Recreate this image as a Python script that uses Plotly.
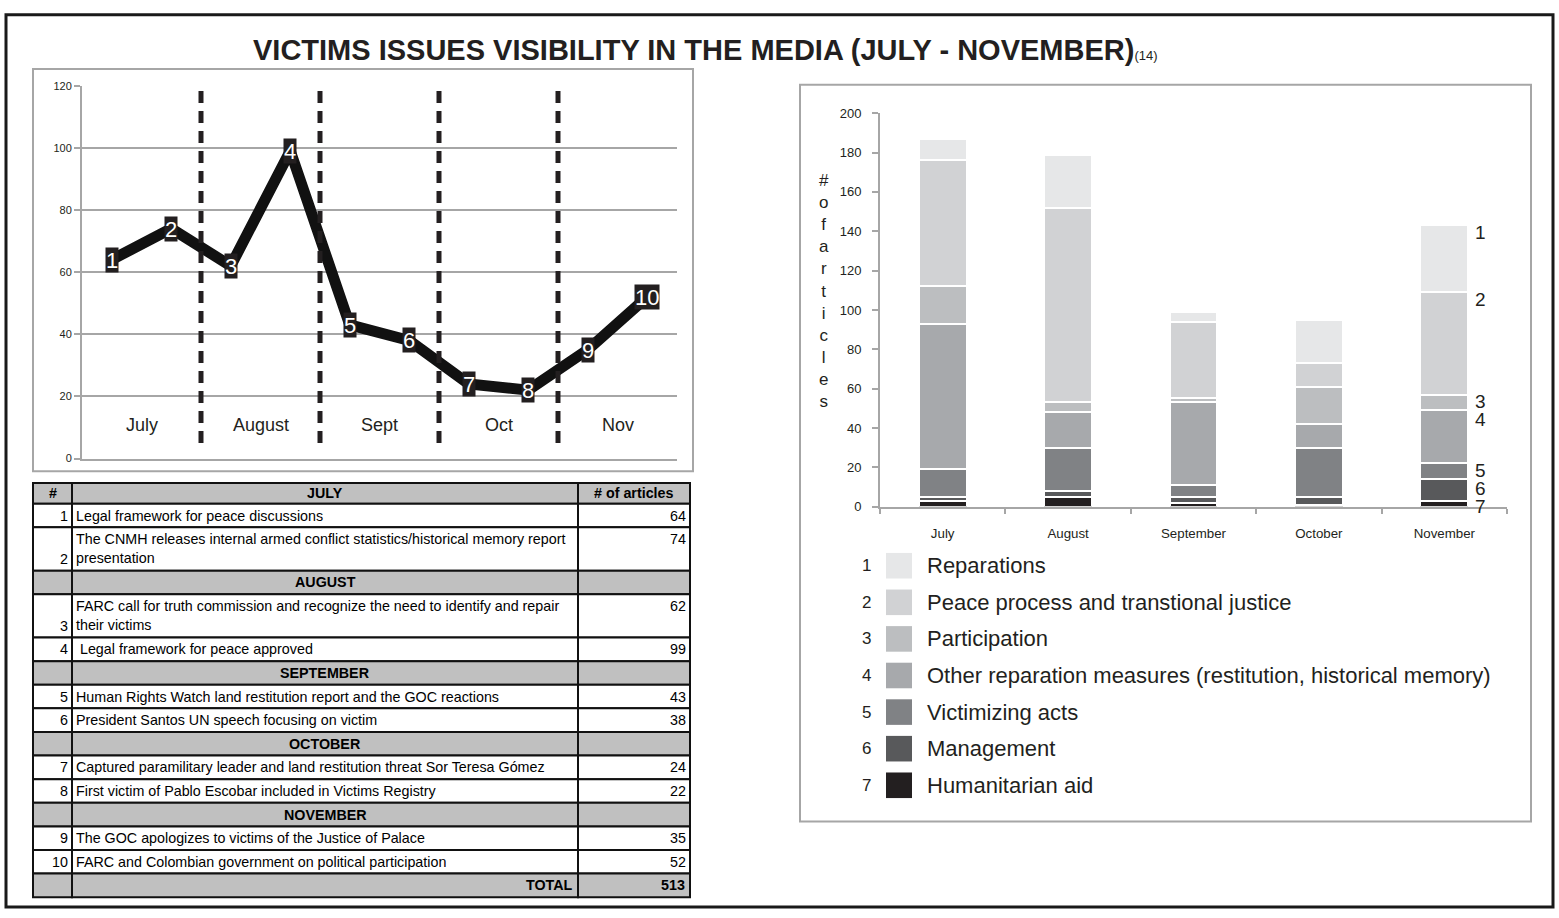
import plotly.graph_objects as go

W, H = 1559, 918
FONT = "Liberation Sans, Arial, sans-serif"
DARK = "#231f20"
GRID = "#a6a6a6"

# ---------------- data ----------------
event_ids = list(range(1, 11))
event_articles = [64, 74, 62, 99, 43, 38, 24, 22, 35, 52]
event_month = [0, 0, 1, 1, 2, 2, 3, 3, 4, 4]
event_desc = [
    "Legal framework for peace discussions",
    "The CNMH releases internal armed conflict statistics/historical memory report<br>presentation",
    "FARC call for truth commission and recognize the need to identify and repair<br>their victims",
    " Legal framework for peace approved",
    "Human Rights Watch land restitution report and the GOC reactions",
    "President Santos UN speech focusing on victim",
    "Captured paramilitary leader and land restitution threat Sor Teresa Gómez",
    "First victim of Pablo Escobar included in Victims Registry",
    "The GOC apologizes to victims of the Justice of Palace",
    "FARC and Colombian government on political participation",
]
table_months = ["JULY", "AUGUST", "SEPTEMBER", "OCTOBER", "NOVEMBER"]
line_months = ["July", "August", "Sept", "Oct", "Nov"]

bar_months = ["July", "August", "September", "October", "November"]
categories = [
    "Reparations",
    "Peace process and transtional justice",
    "Participation",
    "Other reparation measures (restitution, historical memory)",
    "Victimizing acts",
    "Management",
    "Humanitarian aid",
]
reparations = [11, 27, 5, 22, 34]
peace_process = [64, 99, 39, 12, 52]
participation = [19, 5, 2, 19, 8]
other_reparation = [74, 18, 42, 12, 27]
victimizing = [14, 22, 6, 25, 8]
management = [2, 3, 3, 4, 11]
humanitarian = [3, 5, 2, 1, 3]
series = [reparations, peace_process, participation, other_reparation,
          victimizing, management, humanitarian]
colors = ["#e6e7e8", "#d1d2d4", "#bcbec0", "#a7a9ac", "#808285", "#58595b", "#231f20"]


def px(x):
    return x / W


def py(y):
    return 1 - y / H


def ann(**kw):
    d = dict(showarrow=False, xanchor="center", yanchor="middle")
    d.update(kw)
    return d


fig = go.Figure()
annotations = []
shapes = []

# ---------------- frames ----------------
shapes.append(dict(type="rect", xref="paper", yref="paper", x0=px(6), x1=px(1553),
                   y0=py(915), y1=py(8), line=dict(color="#1a1a1a", width=3), layer="below"))
shapes.append(dict(type="rect", xref="paper", yref="paper", x0=px(33), x1=px(693),
                   y0=py(472), y1=py(63), line=dict(color=GRID, width=2), layer="below"))
shapes.append(dict(type="rect", xref="paper", yref="paper", x0=px(800), x1=px(1531),
                   y0=py(828), y1=py(79), line=dict(color=GRID, width=2), layer="below"))

# ---------------- line chart ----------------
fig.add_trace(go.Scatter(
    x=event_ids, y=event_articles, mode="lines",
    line=dict(color="#111111", width=11), xaxis="x", yaxis="y",
    showlegend=False, hoverinfo="skip"))

for i, v in zip(event_ids, event_articles):
    annotations.append(ann(
        x=i, y=v, xref="x", yref="y", text=str(i),
        font=dict(family=FONT, size=22, color="white"),
        bgcolor=DARK, borderpad=0, height=24))

for k in range(1, len(event_ids)):
    if event_month[k] != event_month[k - 1]:
        b = (event_ids[k - 1] + event_ids[k]) / 2
        shapes.append(dict(type="line", xref="x", yref="y", x0=b, x1=b,
                           y0=5, y1=120,
                           line=dict(color=DARK, width=5, dash="12px,8px")))
for m, name in enumerate(line_months):
    ids = [i for i, mm in zip(event_ids, event_month) if mm == m]
    annotations.append(ann(
        x=sum(ids) / len(ids), y=10.8, xref="x", yref="y", text=name,
        font=dict(family=FONT, size=18, color=DARK)))

# ---------------- stacked bars ----------------
for name, vals, col in reversed(list(zip(categories, series, colors))):
    fig.add_trace(go.Bar(
        x=bar_months, y=vals, name=name,
        marker=dict(color=col, line=dict(color="white", width=2)),
        width=0.38, xaxis="x2", yaxis="y2", showlegend=False))

# numbers 1..7 beside the November bar, near the top of each segment
tops = []
cum = 0
for vals in reversed(series):
    cum += vals[-1]
    tops.append(cum)
tops = list(reversed(tops))
label_y = []
prev = None
for t in tops:
    y = t - 3.5
    if prev is not None and y > prev - 9:
        y = prev - 9
    y = max(y, 0)
    label_y.append(y)
    prev = y
for n, y in enumerate(label_y, start=1):
    annotations.append(ann(
        x=bar_months[-1], y=y, xref="x2", yref="y2", text=str(n),
        xshift=36, font=dict(family=FONT, size=19, color=DARK)))

letters = [c for c in "# of articles" if c != " "]
annotations.append(ann(
    x=px(824), y=py(289), xref="paper", yref="paper", text="<br>".join(letters),
    font=dict(family=FONT, size=17, color=DARK), align="center"))

# custom legend
for k, (name, col) in enumerate(zip(categories, colors)):
    yc = 568 + k * 37.2
    annotations.append(ann(x=px(866), y=py(yc), xref="paper", yref="paper",
                           text=str(k + 1), font=dict(family=FONT, size=17, color=DARK)))
    shapes.append(dict(type="rect", xref="paper", yref="paper",
                       x0=px(886), x1=px(912), y0=py(yc + 13), y1=py(yc - 13),
                       fillcolor=col, line=dict(width=0)))
    annotations.append(ann(x=px(925), y=py(yc), xref="paper", yref="paper",
                           text=name, xanchor="left",
                           font=dict(family=FONT, size=22, color=DARK)))

# ---------------- table (drawn cell by cell) ----------------
GRAY = "#c0c0c0"
TFONT = dict(family=FONT, size=14.3, color="black")
col_x = [33, 72, 578, 690]
rows = []
rows.append(("head", "<b>#</b>", "<b>" + table_months[0] + "</b>", "<b># of articles</b>"))
for k, (i, d, a, m) in enumerate(zip(event_ids, event_desc, event_articles, event_month)):
    if k > 0 and m != event_month[k - 1]:
        rows.append(("month", "", "<b>" + table_months[m] + "</b>", ""))
    rows.append(("event", str(i), d, str(a)))
rows.append(("total", "", "<b>TOTAL</b>", "<b>" + str(sum(event_articles)) + "</b>"))

top = 484
LH = 10.5
for kind, num, desc, art in rows:
    two = "<br>" in desc
    h = 21 if kind == "head" else (44 if two else 24)
    y0, y1 = top, top + h
    yc = (y0 + y1) / 2
    gray = kind != "event"
    for c in range(3):
        shapes.append(dict(type="rect", xref="paper", yref="paper",
                           x0=px(col_x[c]), x1=px(col_x[c + 1]), y0=py(y1), y1=py(y0),
                           fillcolor=GRAY if gray else "white",
                           line=dict(color="#111111", width=2)))
    if kind == "head":
        for c, t in enumerate([num, desc, art]):
            annotations.append(ann(x=px((col_x[c] + col_x[c + 1]) / 2), y=py(yc),
                                   xref="paper", yref="paper", text=t, font=TFONT))
    elif kind == "month":
        annotations.append(ann(x=px((col_x[1] + col_x[2]) / 2), y=py(yc),
                               xref="paper", yref="paper", text=desc, font=TFONT))
    elif kind == "total":
        annotations.append(ann(x=px(col_x[2] - 3), y=py(yc), xref="paper", yref="paper",
                               text=desc, xanchor="right", font=TFONT))
        annotations.append(ann(x=px(col_x[3] - 3), y=py(yc), xref="paper", yref="paper",
                               text=art, xanchor="right", font=TFONT))
    else:
        num_y = yc + LH if two else yc
        art_y = yc - LH if two else yc
        annotations.append(ann(x=px(col_x[1] - 2), y=py(num_y), xref="paper", yref="paper",
                               text=num, xanchor="right", font=TFONT))
        annotations.append(ann(x=px(col_x[1] + 2), y=py(yc), xref="paper", yref="paper",
                               text=desc, xanchor="left", align="left", font=TFONT))
        annotations.append(ann(x=px(col_x[3] - 2), y=py(art_y), xref="paper", yref="paper",
                               text=art, xanchor="right", font=TFONT))
    top = y1

# title
annotations.append(ann(
    x=px(705), y=py(44), xref="paper", yref="paper",
    text="<b>VICTIMS ISSUES VISIBILITY IN THE MEDIA (JULY - NOVEMBER)</b>"
         "<span style='font-size:13px'>(14)</span>",
    font=dict(family=FONT, size=29, color=DARK)))

fig.update_layout(
    width=W, height=H, margin=dict(l=0, r=0, t=0, b=0),
    paper_bgcolor="white", plot_bgcolor="rgba(0,0,0,0)",
    barmode="stack",
    font=dict(family=FONT, color=DARK),
    xaxis=dict(domain=[px(82), px(677)], range=[0.5, 10.5], showgrid=False,
               showticklabels=False, zeroline=False, showline=True,
               linecolor=GRID, linewidth=2, ticks=""),
    yaxis=dict(domain=[py(459), py(80)], range=[0, 120], tickvals=list(range(0, 121, 20)),
               showgrid=True, gridcolor=GRID, gridwidth=2, zeroline=False,
               showline=True, linecolor=GRID, linewidth=2, ticks="outside",
               ticklen=6, tickwidth=2, tickcolor=GRID,
               tickfont=dict(family=FONT, size=11, color=DARK)),
    xaxis2=dict(domain=[px(880), px(1507)], anchor="y2", type="category",
                showline=True, linecolor=GRID, linewidth=2, tickson="boundaries",
                ticks="outside", ticklen=5, tickwidth=2, tickcolor=GRID, showgrid=False,
                ticklabelstandoff=13,
                tickfont=dict(family=FONT, size=13.3, color=DARK)),
    yaxis2=dict(domain=[py(508), py(108)], anchor="x2", range=[0, 200], dtick=20,
                showline=True, linecolor=GRID, linewidth=2, ticks="outside",
                ticklen=6, tickwidth=2, tickcolor=GRID, showgrid=False, zeroline=False,
                ticklabelstandoff=8,
                tickfont=dict(family=FONT, size=13, color=DARK)),
    shapes=shapes, annotations=annotations,
)

fig.write_html("out.html", config={"displayModeBar": False},
               post_script="document.body.style.margin='0';")
